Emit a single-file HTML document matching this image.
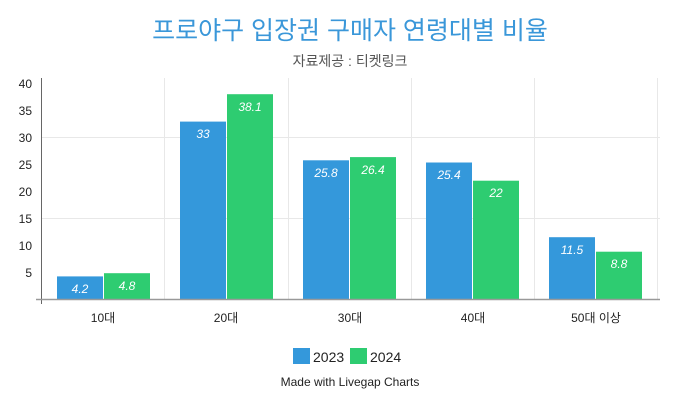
<!DOCTYPE html><html><head><meta charset="utf-8"><style>
body{margin:0;width:700px;height:400px;background:#fff;overflow:hidden}
svg text{font-family:"Liberation Sans","Noto Sans CJK KR",sans-serif}
</style></head><body>
<svg width="700" height="400" xmlns="http://www.w3.org/2000/svg">
<text x="350" y="39" text-anchor="middle" font-size="25" fill="#3a97d9">프로야구 입장권 구매자 연령대별 비율</text>
<text x="350" y="66" text-anchor="middle" font-size="14" fill="#555">자료제공 : 티켓링크</text>
<g stroke="#e8e8e8" stroke-width="1">
<line x1="41" y1="137.5" x2="660" y2="137.5"/><line x1="41" y1="218.5" x2="660" y2="218.5"/>
<line x1="164.5" y1="78" x2="164.5" y2="299"/><line x1="288.5" y1="78" x2="288.5" y2="299"/><line x1="411.5" y1="78" x2="411.5" y2="299"/><line x1="534.5" y1="78" x2="534.5" y2="299"/><line x1="657.5" y1="78" x2="657.5" y2="299"/>
</g>
<g font-size="12" fill="#222" text-anchor="end">
<text x="32" y="88">40</text><text x="32" y="115">35</text><text x="32" y="142">30</text><text x="32" y="169">25</text><text x="32" y="196">20</text><text x="32" y="223">15</text><text x="32" y="250">10</text><text x="32" y="277">5</text>
</g>
<g font-size="12" font-style="italic" fill="#fff" text-anchor="middle">
<rect x="57" y="276.4" width="46" height="22.6" fill="#3498db"/><rect x="104" y="273.2" width="46" height="25.8" fill="#2ecc71"/>
<text x="80" y="293">4.2</text><text x="127" y="290">4.8</text>
<rect x="180" y="121.6" width="46" height="177.4" fill="#3498db"/><rect x="227" y="94.2" width="46" height="204.8" fill="#2ecc71"/>
<text x="203" y="138">33</text><text x="250" y="111">38.1</text>
<rect x="303" y="160.3" width="46" height="138.7" fill="#3498db"/><rect x="350" y="157.1" width="46" height="141.9" fill="#2ecc71"/>
<text x="326" y="177">25.8</text><text x="373" y="174">26.4</text>
<rect x="426" y="162.5" width="46" height="136.5" fill="#3498db"/><rect x="473" y="180.7" width="46" height="118.3" fill="#2ecc71"/>
<text x="449" y="179">25.4</text><text x="496" y="197">22</text>
<rect x="549" y="237.2" width="46" height="61.8" fill="#3498db"/><rect x="596" y="251.7" width="46" height="47.3" fill="#2ecc71"/>
<text x="572" y="254">11.5</text><text x="619" y="268">8.8</text>
</g>
<line x1="41.5" y1="78" x2="41.5" y2="304" stroke="#666"/>
<line x1="36" y1="299.5" x2="660" y2="299.5" stroke="#999" stroke-width="1.5"/>
<g font-size="12" fill="#222" text-anchor="middle">
<text x="103" y="322">10대</text><text x="226" y="322">20대</text><text x="350" y="322">30대</text><text x="473" y="322">40대</text><text x="596" y="322">50대 이상</text>
</g>
<rect x="293" y="348" width="17" height="16" fill="#3498db"/><text x="313" y="362" font-size="14" fill="#222">2023</text>
<rect x="350" y="348" width="17" height="16" fill="#2ecc71"/><text x="370" y="362" font-size="14" fill="#222">2024</text>
<text x="350" y="386" text-anchor="middle" font-size="12" fill="#222">Made with Livegap Charts</text>
</svg></body></html>
